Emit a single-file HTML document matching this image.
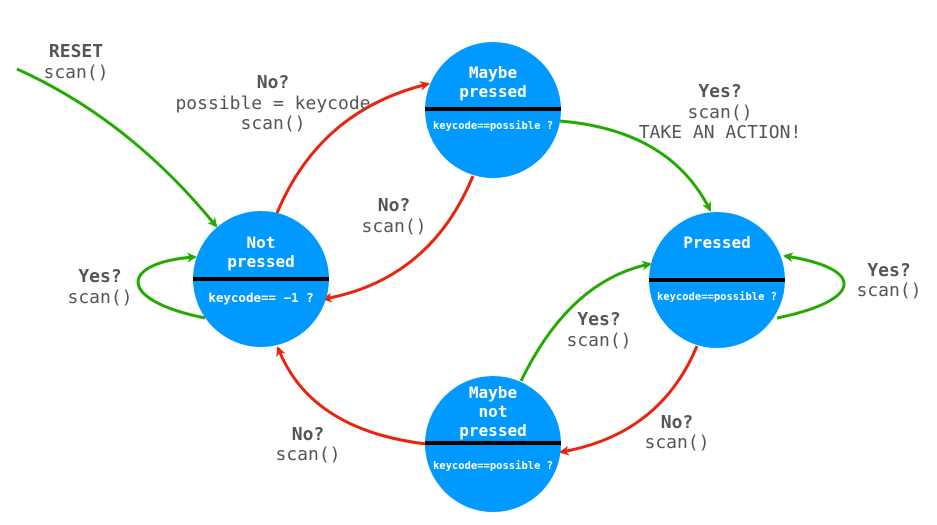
<!DOCTYPE html>
<html><head><style>body{margin:0;background:#fff}svg{display:block}</style></head><body>
<svg width="937" height="525" viewBox="0 0 937 525" xmlns="http://www.w3.org/2000/svg" font-family="'DejaVu Sans Mono','Liberation Mono',monospace">
<defs>
<marker id="g" markerWidth="10" markerHeight="10" refX="8" refY="5" orient="auto" markerUnits="userSpaceOnUse"><path d="M0,0 L10,5 L0,10 L3,5z" fill="#22aa00"/></marker>
<marker id="r" markerWidth="10" markerHeight="10" refX="8" refY="5" orient="auto" markerUnits="userSpaceOnUse"><path d="M0,0 L10,5 L0,10 L3,5z" fill="#e8240f"/></marker>
</defs>
<g fill="none" stroke-width="3">
<path d="M17,69 Q130,120 216,226" stroke="#22aa00" marker-end="url(#g)"/>
<path d="M205,318 C115,300 120,262 195,257" stroke="#22aa00" marker-end="url(#g)"/>
<path d="M277,213 Q320,110 428,84" stroke="#e8240f" marker-end="url(#r)"/>
<path d="M473,176 Q430,280 324,299" stroke="#e8240f" marker-end="url(#r)"/>
<path d="M560,121 Q670,130 710,210" stroke="#22aa00" marker-end="url(#g)"/>
<path d="M777,318 C865,300 865,268 785,256" stroke="#22aa00" marker-end="url(#g)"/>
<path d="M697,346 Q660,435 561,452" stroke="#e8240f" marker-end="url(#r)"/>
<path d="M521,381 Q570,280 650,264" stroke="#22aa00" marker-end="url(#g)"/>
<path d="M426,444 Q310,430 278,348" stroke="#e8240f" marker-end="url(#r)"/>
</g>
<g fill="#0099ff">
<circle cx="261" cy="279" r="68"/>
<circle cx="493" cy="110" r="68"/>
<circle cx="717" cy="280" r="68"/>
<circle cx="493" cy="444" r="68"/>
</g>
<g stroke="#000" stroke-width="4">
<line x1="193" y1="279" x2="329" y2="279"/>
<line x1="425" y1="109" x2="561" y2="109"/>
<line x1="649" y1="280" x2="785" y2="280"/>
<line x1="425" y1="443" x2="561" y2="443"/>
</g>
<g fill="#fff" font-weight="bold" text-anchor="middle" font-size="16">
<text x="261" y="248">Not</text><text x="261" y="267">pressed</text>
<text x="493" y="78">Maybe</text><text x="493" y="97">pressed</text>
<text x="717" y="248">Pressed</text>
<text x="493" y="398">Maybe</text><text x="493" y="417">not</text><text x="493" y="436">pressed</text>
<g font-size="12.5"><text x="261" y="302">keycode== −1 ?</text></g>
<g font-size="10.5"><text x="493" y="129">keycode==possible ?</text><text x="717" y="300">keycode==possible ?</text><text x="493" y="469">keycode==possible ?</text></g>
</g>
<g fill="#555" text-anchor="middle" font-size="18">
<text x="76" y="57" font-weight="bold">RESET</text><text x="76" y="78">scan()</text>
<text x="273" y="88" font-weight="bold">No?</text><text x="273" y="109">possible = keycode</text><text x="273" y="129">scan()</text>
<text x="394" y="211" font-weight="bold">No?</text><text x="394" y="232">scan()</text>
<text x="720" y="97" font-weight="bold">Yes?</text><text x="720" y="118">scan()</text><text x="720" y="138">TAKE AN ACTION!</text>
<text x="100" y="282" font-weight="bold">Yes?</text><text x="100" y="303">scan()</text>
<text x="889" y="276" font-weight="bold">Yes?</text><text x="889" y="296">scan()</text>
<text x="599" y="325" font-weight="bold">Yes?</text><text x="599" y="346">scan()</text>
<text x="677" y="428" font-weight="bold">No?</text><text x="677" y="448">scan()</text>
<text x="308" y="440" font-weight="bold">No?</text><text x="308" y="460">scan()</text>
</g>
</svg>
</body></html>
